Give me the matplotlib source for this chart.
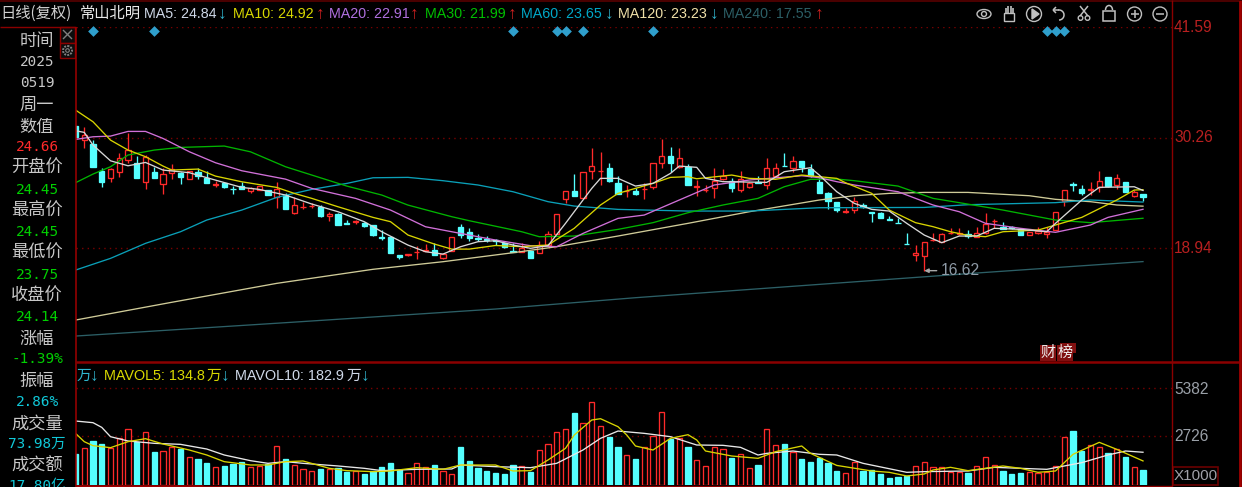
import matplotlib
matplotlib.use("Agg")
import matplotlib.pyplot as plt
from matplotlib.patches import Circle, Ellipse, Rectangle, Arc, Polygon
from matplotlib.transforms import blended_transform_factory

# ---------- data ----------
opens = [31.44,30.0,29.56,26.83,26.08,26.76,27.96,27.62,25.74,26.73,
 25.47,26.59,26.59,26.01,26.76,26.15,25.42,25.6,25.02,25.33,
 24.78,24.88,24.92,24.2,24.37,22.49,23.13,23.2,23.18,22.22,
 22.43,21.5,21.6,21.47,21.3,20.05,20.1,18.22,18.18,18.52,
 18.65,18.77,17.91,18.66,21.09,20.54,19.95,19.85,19.75,19.42,
 18.6,18.57,18.67,18.46,19.25,20.34,23.96,24.78,24.06,26.8,
 26.8,27.1,25.57,24.75,24.81,24.95,25.22,27.68,28.37,27.27,
 27.27,25.2,24.87,25.12,26.01,25.84,24.88,25.22,25.75,25.4,
 26.35,27.35,27.1,27.85,27.0,25.74,24.54,23.62,22.66,22.83,
 23.35,22.6,22.49,21.9,21.55,19.4,18.19,18.16,19.72,19.59,
 20.47,20.4,20.38,20.1,20.44,21.7,21.13,21.07,20.85,20.24,
 20.44,20.38,20.78,23.76,25.5,24.95,24.9,25.16,26.18,25.4,
 25.67,24.3,24.45]
highs = [31.44,31.3,30.0,27.1,27.1,28.64,30.76,28.37,28.47,27.27,
 27.1,27.51,26.76,26.87,27.17,26.87,25.81,25.74,25.3,25.74,
 25.23,25.3,24.92,25.67,24.54,24.2,23.62,23.52,23.35,22.66,
 22.49,21.81,21.81,21.6,21.3,20.79,20.1,18.22,18.32,19.14,
 19.31,19.48,18.4,20.03,21.36,20.95,20.34,20.2,19.83,19.59,
 19.42,19.49,18.67,19.66,20.68,22.46,24.78,26.49,26.69,29.15,
 28.78,27.68,26.32,25.4,25.05,25.57,27.62,30.07,29.25,29.15,
 27.5,25.91,25.4,27.1,27.0,26.08,26.86,25.74,26.35,28.13,
 27.62,28.64,28.37,27.85,27.51,26.08,24.71,23.62,23.0,24.2,
 23.59,22.6,22.66,22.22,22.05,20.44,19.25,19.59,20.51,20.51,
 20.96,21.02,20.78,21.13,22.49,21.88,21.57,21.23,20.96,20.61,
 21.06,21.13,22.6,24.88,25.74,25.4,25.74,26.83,26.18,26.49,
 25.67,24.88,24.45]
lows = [30.35,29.2,27.27,25.2,25.74,26.25,27.62,26.15,24.95,26.08,
 24.44,25.98,25.47,25.98,25.98,25.57,25.23,25.12,24.44,24.95,
 24.54,24.88,24.37,23.07,22.9,22.43,22.9,23.04,22.15,21.74,
 21.26,21.4,21.4,21.1,20.2,19.76,18.46,17.78,18.1,17.78,
 18.6,18.19,17.78,18.66,20.0,19.69,19.65,19.58,19.25,18.97,
 18.55,18.5,17.92,18.46,19.25,20.34,23.52,24.3,24.06,25.98,
 25.4,25.74,24.44,24.2,24.34,23.96,24.95,27.1,26.76,27.1,
 25.4,24.3,24.71,24.03,25.91,24.71,24.71,25.05,25.57,24.95,
 26.25,27.3,26.76,26.76,26.25,24.54,22.9,22.66,22.56,22.56,
 23.07,21.64,21.98,21.8,21.47,19.32,17.64,16.62,19.69,19.52,
 20.38,20.24,19.93,20.03,20.34,20.96,20.85,20.85,20.24,20.24,
 20.38,19.93,20.78,23.28,24.81,24.37,24.37,24.71,25.16,24.95,
 24.71,24.2,23.75]
closes = [30.35,30.5,27.27,25.74,27.0,28.13,28.98,26.15,28.23,26.15,
 26.49,27.0,26.25,26.8,26.35,25.6,25.5,25.19,24.95,24.99,
 25.06,25.3,24.37,24.95,22.94,23.38,23.18,23.25,22.22,22.39,
 21.33,21.42,21.66,21.2,20.24,20.0,18.46,18.05,18.32,18.58,
 18.72,18.19,18.32,20.03,20.3,20.0,19.85,19.75,19.68,19.08,
 18.55,18.91,17.92,19.25,20.38,22.46,24.78,24.3,26.69,27.31,
 26.85,25.84,24.44,24.82,24.47,25.0,27.62,28.37,27.62,28.13,
 25.4,25.25,24.92,25.84,26.35,25.12,26.01,25.57,25.65,27.1,
 27.1,27.3,27.85,27.2,26.32,24.61,23.76,22.83,22.73,23.76,
 23.11,22.55,22.05,21.85,21.5,19.35,18.46,19.52,19.77,20.38,
 20.52,20.45,20.17,20.44,21.4,21.75,20.92,21.0,20.24,20.61,
 20.68,20.61,22.6,24.88,25.45,24.54,24.97,25.8,25.33,26.08,
 24.71,24.64,24.14]
# share volume, in thousands
volume = [1713,2045,2469,2266,2082,2598,3096,2414,2930,1842,
 1898,2137,1990,1548,1437,1216,995,1087,1179,1290,
 995,1068,1161,2174,1437,1124,884,792,884,884,
 940,755,811,608,792,1013,1216,847,663,1216,
 1031,1142,773,644,2100,1363,939,810,663,607,
 1142,1068,755,1953,2303,2930,3132,3980,3427,4588,
 3280,2653,2100,1676,1437,2100,2727,4035,2543,2598,
 2100,1400,1068,2100,2027,1492,1732,976,1142,3132,
 2248,2303,1824,1437,1271,1492,1216,810,663,1271,
 810,847,608,387,479,516,1068,1271,995,995,
 755,755,663,1068,1548,1142,810,608,681,755,
 681,718,1068,2653,3022,1916,2248,2100,1769,2008,
 1548,995,860]

ma5_i = [0,1,2,4,6,8,10,13,16,19,21,24,27,30,33,35,38,40,42,44,46,48,50,52,54,56,59,60,62,64,66,68,69,71,72,74,79,81,84,85,87,89,91,93,95,97,99,101,103,105,108,111,112,115,117,121,122]
ma5_v = [30.96,30.79,29.49,27.88,27.37,27.71,26.93,26.66,25.9,25.15,24.95,24.37,23.45,22.66,21.64,20.61,19.24,18.56,18.32,19.07,19.59,19.69,19.25,18.91,19.18,21.47,25.05,26.08,26.08,25.29,25.57,26.59,27.34,27.21,26.08,25.74,25.67,26.76,27.17,26.42,24.71,23.52,22.9,22.73,21.47,20.27,19.49,20.17,20.17,20.96,20.85,20.61,21.47,23.86,25.16,25.22,24.84]
ma10_i = [0,2,4,6,8,10,11,14,16,19,23,25,27,30,34,36,38,41,43,45,48,51,54,57,60,62,66,68,70,71,75,77,80,83,87,88,91,93,96,98,100,102,104,106,110,112,115,119,121,122]
ma10_v = [33.08,31.88,30.0,28.98,28.3,27.34,26.93,27.03,26.31,25.73,25.15,24.54,24.03,23.17,22.08,21.64,20.27,19.35,18.83,18.83,19.2,19.08,19.25,20.96,23.35,24.54,25.57,26.18,26.25,26.04,26.42,26.08,25.98,26.42,26.08,25.63,24.54,22.83,21.54,21.13,20.61,20.24,20.1,20.61,20.78,21.3,22.08,23.86,24.88,24.92]
ma20_i = [0,2,4,6,8,10,13,16,19,24,27,32,36,40,44,48,52,55,58,62,65,69,73,77,83,85,87,89,94,98,101,104,108,112,116,118,122]
ma20_v = [30.07,30.34,30.41,30.89,30.89,30.17,28.81,27.68,26.86,26.0,25.05,24.03,22.83,21.12,20.44,19.76,19.18,19.08,20.44,21.98,22.32,23.86,25.4,25.91,26.35,26.15,25.74,25.4,24.71,23.35,22.66,21.47,20.96,20.55,21.3,22.08,22.91]
ma30_i = [0,2,4,6,9,12,17,20,24,27,31,35,38,43,45,51,53,57,62,66,70,74,78,81,84,87,89,94,98,101,106,112,116,122]
ma30_v = [25.63,26.52,27.27,28.47,28.98,29.25,29.39,28.8,27.27,26.42,25.29,24.37,23.34,22.15,21.74,20.61,20.1,20.17,20.85,21.54,22.56,23.35,24.03,25.22,25.98,26.01,25.84,25.29,24.03,23.59,22.83,21.81,21.54,21.99]
ma60_i = [0,4,8,12,15,19,23,27,31,34,38,42,46,50,54,57,62,70,77,85,97,102,112,116,122]
ma60_v = [16.68,17.88,19.42,20.61,21.81,22.83,24.13,24.95,25.56,26.14,26.18,25.84,25.4,24.71,23.69,23.24,22.9,22.73,22.73,23.07,23.1,23.38,23.59,23.86,23.65]
ma120_i = [0,11,23,34,42,50,55,62,70,77,85,89,93,97,102,109,112,116,119,122]
ma120_v = [11.56,13.38,15.32,16.76,17.54,18.46,19.08,20.17,21.47,22.66,23.86,24.3,24.54,24.64,24.64,24.3,23.93,23.69,23.35,23.23]
ma240_i = [0,24,48,64,84,103,122]
ma240_v = [9.92,11.29,12.69,13.85,15.15,16.38,17.55]
mavol5_i = [0,1,2,4,6,8,10,13,15,17,20,22,24,26,29,31,34,36,39,42,44,48,50,52,54,56,57,59,60,62,63,64,66,68,70,71,72,75,78,80,83,84,87,91,93,95,97,98,100,102,106,108,110,112,114,117,119,122]
mavol5_v = [2875,2414,2193,2082,2414,2580,2285,1953,1677,1308,1124,1124,1308,1345,940,811,755,792,976,884,1123,1123,792,810,1400,2045,2782,3612,3685,3243,2782,2174,1953,2598,2800,2506,1898,1621,1492,1860,2174,1768,1100,792,718,516,626,847,995,810,1069,940,718,792,1714,2377,1990,1348]
mavol10_i = [0,2,3,4,6,9,12,15,17,20,22,24,26,30,33,35,39,43,44,48,52,55,58,60,62,65,68,71,74,76,78,79,82,85,87,90,95,97,102,105,111,115,118,120,122]
mavol10_v = [3557,3465,3206,2690,2451,2322,2266,2008,1677,1363,1216,1308,1216,1069,940,811,884,902,1123,1031,976,1216,1953,2598,3003,2874,2690,2229,2211,2100,1676,1768,1898,1714,1677,1216,718,755,792,995,884,1253,1677,1898,1829]

marker_idx = [2,9,50,55,56,58,66,111,112,113]
low_idx, low_val = 97, 16.62
price_ticks = [18.94, 30.26, 41.59]
vol_ticks = [2726, 5382]
side_labels = ["时间","2025","0519","周一","数值","24.66","开盘价","24.45","最高价","24.45","最低价","23.75",
               "收盘价","24.14","涨幅","-1.39%","振幅","2.86%","成交量","73.98万","成交额","17.80亿"]
ma_legend = [("MA5: 24.84","↓"),("MA10: 24.92","↑"),("MA20: 22.91","↑"),("MA30: 21.99","↑"),
             ("MA60: 23.65","↓"),("MA120: 23.23","↓"),("MA240: 17.55","↑")]

# ---------- style ----------
W, H = 1242, 487
DR = "#8a0000"; GRID = "#7a0000"
RED = "#ff2a2a"; CY = "#55ffff"
CJK = ["Noto Sans CJK SC", "DejaVu Sans"]
LAT = ["Liberation Sans", "Noto Sans CJK SC"]
MONO = ["DejaVu Sans Mono", "Noto Sans CJK SC"]
plt.rcParams["font.family"] = LAT

fig = plt.figure(figsize=(W/100, H/100), dpi=100, facecolor="black")
def axes_px(l, t, r, b):
    a = fig.add_axes([l/W, 1-b/H, (r-l)/W, (b-t)/H], facecolor="none")
    for s in a.spines.values(): s.set_visible(False)
    a.set_xticks([]); a.set_yticks([])
    return a

PX_I0, PX_STEP = 75.5, 8.75
L, R = 76, 1172
xlim = ((L-PX_I0)/PX_STEP, (R-PX_I0)/PX_STEP)
n = len(closes); idx = list(range(n))
up = [c >= o for o, c in zip(opens, closes)]
BW = 0.62
EW = 0.95
LW = 0.95

# ---------- price panel ----------
ax = axes_px(L, 27, R, 361)
ax.set_xlim(*xlim)
pp = (30.26-18.94)/110.5
ax.set_ylim(18.94-(361-248)*pp, 41.59)
for t in price_ticks:
    ax.axhline(t, color=GRID, lw=1, ls=(0,(1,3)), zorder=1)
ax.vlines(idx, lows, highs, colors=[RED if u else CY for u in up], lw=0.95, zorder=2)
for i in idx:
    lo, hi = sorted((opens[i], closes[i]))
    if up[i]:
        ax.bar(i, hi-lo, BW, bottom=lo, facecolor="black", edgecolor=RED, lw=EW, zorder=3)
    else:
        ax.bar(i, hi-lo, BW, bottom=lo, facecolor=CY, edgecolor=CY, lw=EW, zorder=3)
for xi, yi, c in [(ma240_i,ma240_v,"#2c5f66"),(ma120_i,ma120_v,"#cfcb98"),(ma60_i,ma60_v,"#0aa0b8"),
                  (ma30_i,ma30_v,"#00b400"),(ma20_i,ma20_v,"#d070d8"),(ma10_i,ma10_v,"#d8d400"),(ma5_i,ma5_v,"#d8d8d8")]:
    ax.plot(xi, yi, color=c, lw=LW, zorder=4)
tr = blended_transform_factory(ax.transData, ax.transAxes)
ax.scatter(marker_idx, [1-4/334]*len(marker_idx), marker="D", s=30, color="#2f9fcc", transform=tr, zorder=5, clip_on=False, linewidths=0)
ax.annotate("16.62", xy=(low_idx, low_val), xytext=(low_idx+1.9, low_val), color="#8e9aa6", fontsize=11.3,
            va="center", ha="left", zorder=6,
            arrowprops=dict(arrowstyle="-|>", color="#a8a8a8", lw=1, mutation_scale=6, shrinkA=1, shrinkB=0))

# ---------- volume panel ----------
vx = axes_px(L, 362, R, 485.3)
vx.set_xlim(*xlim)
vp = (5382-2726)/48
vx.set_ylim(0, (485.3-362)*vp)
for t in vol_ticks:
    vx.axhline(t, color=GRID, lw=1, ls=(0,(1,3)), zorder=1)
for i in idx:
    if up[i]:
        vx.bar(i, volume[i], BW, facecolor="black", edgecolor=RED, lw=EW, zorder=2)
    else:
        vx.bar(i, volume[i], BW, facecolor=CY, edgecolor=CY, lw=EW, zorder=2)
vx.plot(mavol10_i, mavol10_v, color="#e8e8e8", lw=LW, zorder=4)
vx.plot(mavol5_i, mavol5_v, color="#d8d400", lw=LW, zorder=4)

# ---------- chrome, in pixel coordinates ----------
ov = axes_px(0, 0, W, H)
ov.set_xlim(0, W); ov.set_ylim(H, 0); ov.set_zorder(10)
def T(x, y, s, c, size, ha="left", fam=LAT, **kw):
    return ov.text(x, y, s, color=c, fontsize=size, ha=ha, va="center", family=fam, **kw)
def LN(x0, y0, x1, y1, c=DR, lw=1.0):
    ov.plot([x0, x1], [y0, y1], color=c, lw=lw, solid_capstyle="butt")

LN(0, 0.7, 1239, 0.7, "#5a0000", 1.2)
LN(0, 26.5, 75.5, 26.5)
LN(75.5, 26.5, 75.5, 487, "#a00000", 1.1)
LN(76, 361.7, 1239, 361.7, DR, 1.8)
LN(1171.7, 0, 1171.7, 487)
LN(1239.5, 0, 1239.5, 487, "#a00000", 2)
LN(76, 485.6, 1172, 485.6, DR, 1)
LN(76, 485.8, 203, 485.8, "#a00000", 1.8)

# header
T(0, 13.5, "日线(复权)", "#d0d0d0", 11, fam=CJK)
T(80, 13.5, "常山北明", "#e8e8e8", 11, fam=CJK)
leg_x = [(144,222),(233,320),(329,414),(425,512),(521,609),(618,714),(723,819)]
leg_c = ["#cfd8e8","#d8d800","#b070e0","#00c000","#00a8c8","#f0e0a8","#2c5f66"]
for (txt, arr), (x0, x1), c in zip(ma_legend, leg_x, leg_c):
    T(x0, 13.5, txt, c, 10.3)
    T(x1, 14, arr, "#d02020" if arr == "↑" else "#30b0c8", 12.5, ha="center")

# toolbar icons
G = "#c0c0c0"
ov.add_patch(Ellipse((984, 14), 14, 9, fc="none", ec=G, lw=1))
ov.add_patch(Circle((984, 14), 2.5, fc="none", ec=G, lw=1))
ov.add_patch(Rectangle((1004, 13), 10, 8, fc="none", ec=G, lw=1))
for dx, top in [(1005.5,8),(1008,5.5),(1010.5,6),(1013,8)]:
    LN(dx, top, dx, 14, G, 1.2)
ov.add_patch(Circle((1034, 14), 7.5, fc="none", ec=G, lw=1))
ov.add_patch(Polygon([(1032,9),(1032,19),(1039,14)], fc=G, ec=G))
ov.add_patch(Arc((1059, 15), 10, 10, theta1=-100, theta2=90, ec=G, lw=1.1))
LN(1053, 10, 1059, 10, G, 1.1); LN(1053, 10, 1056, 7, G, 1.1); LN(1053, 10, 1056, 13, G, 1.1)
LN(1080, 6, 1088, 16, G, 1.1); LN(1088, 6, 1080, 16, G, 1.1)
ov.add_patch(Circle((1080.5, 18), 2.3, fc="none", ec=G, lw=1)); ov.add_patch(Circle((1087.5, 18), 2.3, fc="none", ec=G, lw=1))
ov.add_patch(Rectangle((1103, 11), 12, 10, fc="none", ec=G, lw=1.1))
ov.add_patch(Arc((1109, 10), 7, 9, theta1=180, theta2=360, ec=G, lw=1.1))
for cx in (1134.5, 1160):
    ov.add_patch(Circle((cx, 14), 7, fc="none", ec=G, lw=1))
    LN(cx-4, 14, cx+4, 14, G, 1.1)
LN(1134.5, 10, 1134.5, 18, G, 1.1)

# sidebar
side_y = [41,62,83,105,127,147,168,190,211,232,253,275,296,317,339,359,381,402,424,444,466,486]
side_c = {"24.66":"#ff2a2a","24.45":"#00d000","23.75":"#00d000","24.14":"#00d000","-1.39%":"#00d000",
          "2.86%":"#10c8d8","73.98万":"#10c8d8","17.80亿":"#10c8d8"}
for s, y in zip(side_labels, side_y):
    if s in side_c:
        T(37, y, s, side_c[s], 10.4, ha="center", fam=MONO)
    elif s.isdigit():
        T(37, y, s, "#c8c8c8", 10.4, ha="center", fam=MONO)
    else:
        T(37, y, s, "#c8c8c8", 12.4, ha="center", fam=CJK)
ov.add_patch(Rectangle((60, 27), 15, 15.5, fc="#0c0c0c", ec=DR, lw=1))
ov.add_patch(Rectangle((60, 43), 15, 15, fc="#0c0c0c", ec=DR, lw=1))
LN(63, 30, 72, 39, "#808080", 1); LN(72, 30, 63, 39, "#808080", 1)
ov.add_patch(Circle((67.5, 50.5), 4.5, fc="none", ec="#808080", lw=1.4, ls=(0,(1,0.6))))
ov.add_patch(Circle((67.5, 50.5), 1.8, fc="none", ec="#808080", lw=0.8))

# axis labels
ptick_y = {41.59: 27, 30.26: 137.5, 18.94: 248.5}
for v in price_ticks:
    T(1174, ptick_y[v], f"{v:.2f}", "#b82020", 11.2)
vtick_y = {5382: 389, 2726: 436.5}
for v in vol_ticks:
    T(1174, vtick_y[v], str(v), "#9aa0a8", 11.2)
ov.add_patch(Rectangle((1172.5, 466.5), 45, 18, fc="none", ec="#6a0000", lw=1.2))
T(1174, 475.5, "X1000", "#a0a0a8", 11)

# volume legend
T(77, 376, "万", "#30b8d0", 10.6, fam=CJK); T(94, 376, "↓", "#30b0c8", 12.5, ha="center")
T(104, 376, "MAVOL5: 134.8", "#d8d800", 10.4)
T(207, 376, "万", "#d8d800", 10.6, fam=CJK); T(225, 376, "↓", "#30b0c8", 12.5, ha="center")
T(235, 376, "MAVOL10: 182.9", "#cfd8e8", 10.4)
T(347, 376, "万", "#cfd8e8", 10.6, fam=CJK); T(365, 376, "↓", "#30b0c8", 12.5, ha="center")

# 财 榜 tags
ov.add_patch(Rectangle((1060, 343), 16, 10, fc="#801010", ec="none"))
for x0, s in [(1040, "财"), (1057, "榜")]:
    ov.add_patch(Rectangle((x0, 345), 16, 15.5, fc="#801010", ec="none"))
    T(x0+8, 352.5, s, "#f0f0f0", 10.8, ha="center", fam=CJK)

fig.savefig("out.png", dpi=100, facecolor="black")
